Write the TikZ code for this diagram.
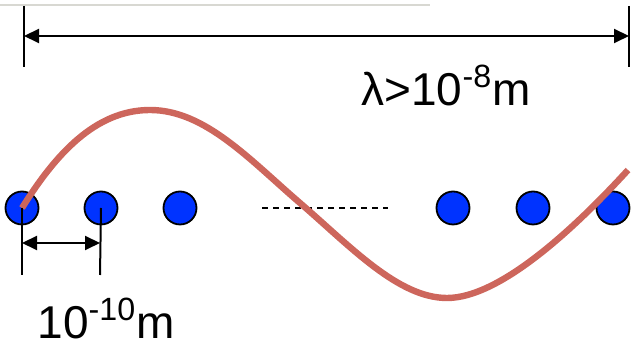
\documentclass[tikz,border=0pt]{standalone}
\usepackage{fontspec}
\setmainfont{Liberation Sans}
\usetikzlibrary{arrows.meta}
\definecolor{waveRed}{RGB}{205,102,92}
\definecolor{atomBlue}{RGB}{0,51,255}
\definecolor{ruleGray}{RGB}{216,216,210}

\begin{document}
\begin{tikzpicture}[x=0.5pt, y=-0.5pt, >={Triangle[length=7.5pt, width=7pt]},
  atom/.style={circle, draw=black, line width=0.9pt, fill=atomBlue,
    minimum size=16.5pt, inner sep=0pt},
  dimtext/.style={font=\fontsize{23}{27}\selectfont, inner sep=0pt},
  dimline/.style={line width=1pt}]
  \useasboundingbox (0,0) rectangle (638,346);

  % Thin grey rule along the top
  \draw[ruleGray, line width=1pt] (0,5) -- (430,5);

  % Wavelength: end bars and arrow
  \coordinate (lamLT) at (24,6);  \coordinate (lamLB) at (24,67);
  \coordinate (lamRT) at (629,6); \coordinate (lamRB) at (629,67);
  \coordinate (lamL) at (24,36);  \coordinate (lamR) at (629,36);
  \draw[dimline] (lamLT) -- (lamLB);
  \draw[dimline] (lamRT) -- (lamRB);
  \draw[dimline, <->] (lamL) -- (lamR);
  \node[dimtext, anchor=base] (lamText) at (446,106)
    {λ>10\textsuperscript{-8}m};

  % Row of atoms
  \foreach \x [count=\i] in {22,101,180,453,533,613}
    \node[atom] (a\i) at (\x,208) {};

  % Gap in the row
  \coordinate (gapL) at (262,208); \coordinate (gapR) at (388,208);
  \draw[line width=1pt, dash pattern=on 3pt off 2.5pt] (gapL) -- (gapR);

  % Light wave over the atoms
  \draw[waveRed, line width=3.2pt]
    (a1.center) .. controls (55,155) and (95,110) .. (150,110)
    .. controls (205,110) and (250,160) .. (300,203)
    .. controls (350,246) and (398,298) .. (447,298)
    .. controls (500,298) and (575,228) .. (628,170);

  % Atomic spacing
  \coordinate (sp1) at (22,275); \coordinate (sp2) at (100,275);
  \coordinate (sp1a) at (22,243); \coordinate (sp2a) at (100,243);
  \draw[dimline] (a1.center) -- (sp1);
  \draw[dimline] (a2.center) -- (sp2);
  \draw[dimline, <->] (sp1a) -- (sp2a);
  \node[dimtext, anchor=base] (spText) at (106,339)
    {10\textsuperscript{-10}m};
\end{tikzpicture}
\end{document}
